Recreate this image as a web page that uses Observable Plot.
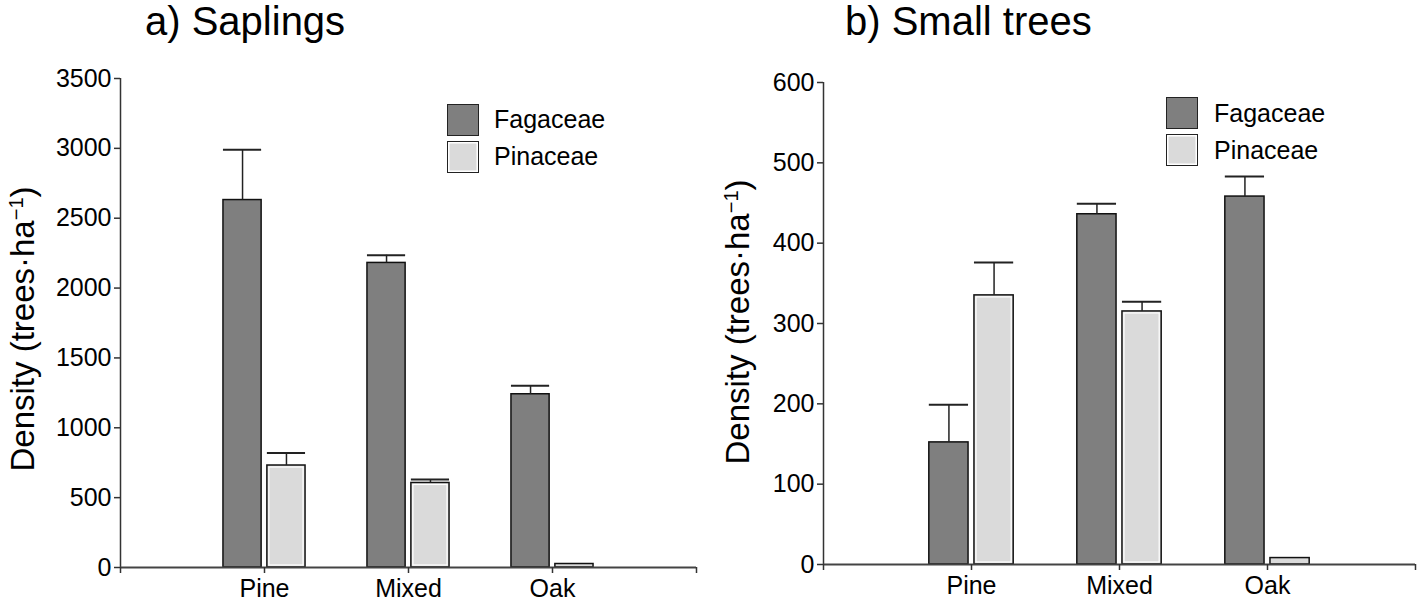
<!DOCTYPE html>
<html>
<head>
<meta charset="utf-8">
<script src="https://cdn.jsdelivr.net/npm/d3@7"></script>
<script src="https://cdn.jsdelivr.net/npm/@observablehq/plot@0.6"></script>
<style>
  html, body { margin: 0; padding: 0; background: #fff; }
  #wrap { position: relative; width: 1418px; height: 605px; overflow: hidden; font-family: "Liberation Sans", Arial, sans-serif; color: #000; }
  .panel { position: absolute; top: 0; }
  .title { position: absolute; font-size: 40px; line-height: 40px; white-space: nowrap; }
  .ylab { position: absolute; font-size: 33px; line-height: 33px; white-space: nowrap; transform: translate(-50%, -50%) rotate(-90deg); }
  .ylab sup { font-size: 20px; line-height: 0; vertical-align: 0.55em; }
  .sw { position: absolute; width: 30px; height: 30px; border: 1.5px solid #222; }
  .lt { position: absolute; font-size: 25px; line-height: 25px; white-space: nowrap; }
</style>
</head>
<body>
<div id="wrap"></div>
<script>
// ---- data ----
const sites = ["Pine", "Mixed", "Oak"];
const siteIndex = [1, 2, 3];
const families = ["Fagaceae", "Pinaceae"];
const familyColors = ["#7f7f7f", "#dadada"];

const saplingsFagaceae = [2630, 2180, 1240];
const saplingsFagaceaeSE = [360, 55, 60];
const saplingsPinaceae = [730, 605, 25];
const saplingsPinaceaeSE = [90, 25, 0];
const saplingTicks = [0, 500, 1000, 1500, 2000, 2500, 3000, 3500];

const smallFagaceae = [152, 436, 458];
const smallFagaceaeSE = [47, 13, 25];
const smallPinaceae = [335, 315, 8];
const smallPinaceaeSE = [41, 12, 0];
const smallTicks = [0, 100, 200, 300, 400, 500, 600];

const xTicks = [0, 1, 2, 3, 4];

// ---- build rows ----
function rows(fag, fagSE, pin, pinSE) {
  const out = [];
  sites.forEach((s, i) => {
    const c = siteIndex[i];
    out.push({site: s, family: families[0], x1: c - 0.285, x2: c - 0.02, value: fag[i], se: fagSE[i]});
    out.push({site: s, family: families[1], x1: c + 0.02, x2: c + 0.285, value: pin[i], se: pinSE[i]});
  });
  return out;
}

function panel(data, yMax, yTicks, opts) {
  const withErr = data.filter(d => d.se > 0);
  return Plot.plot({
    width: opts.width, height: 605,
    marginLeft: opts.marginLeft, marginRight: opts.marginRight,
    marginTop: opts.marginTop, marginBottom: opts.marginBottom,
    style: {fontFamily: "'Liberation Sans', Arial, sans-serif", fontSize: "25px", color: "#000", background: "transparent", overflow: "visible"},
    x: {type: "linear", domain: [0, 4]},
    y: {domain: [0, yMax]},
    color: {domain: families, range: familyColors},
    marks: [
      Plot.rect(data, {x1: "x1", x2: "x2", y1: 0, y2: "value", fill: "family", stroke: "#111", strokeWidth: 1.5}),
      Plot.rect(data.filter(d => d.family === families[1] && d.value > 15), {x1: "x1", x2: "x2", y1: 0, y2: "value", fill: "none", stroke: "#fff", strokeWidth: 1.2, inset: 2}),
      Plot.ruleX(withErr, {x: d => (d.x1 + d.x2) / 2, y1: "value", y2: d => d.value + d.se, stroke: "#222", strokeWidth: 1.5}),
      Plot.ruleY(withErr, {y: d => d.value + d.se, x1: "x1", x2: "x2", stroke: "#222", strokeWidth: 2}),
      Plot.ruleX([0], {y1: 0, y2: yMax, stroke: "#333", strokeWidth: 1.5}),
      Plot.ruleY([0], {x1: 0, x2: 4, stroke: "#444", strokeWidth: 2}),
      Plot.axisY({ticks: yTicks, tickSize: 6, tickPadding: 3, label: null, stroke: "#333", strokeWidth: 1.5, fill: "#000", tickFormat: d => String(d)}),
      Plot.axisX({ticks: xTicks, tickSize: 6, tickPadding: 6, label: null, stroke: "#333", strokeWidth: 1.5, fill: "#000", tickFormat: d => (d >= 1 && d <= 3) ? sites[d - 1] : ""})
    ]
  });
}

const wrap = document.getElementById("wrap");

const left = panel(rows(saplingsFagaceae, saplingsFagaceaeSE, saplingsPinaceae, saplingsPinaceaeSE), 3500, saplingTicks,
  {width: 700, marginLeft: 120, marginRight: 4, marginTop: 78, marginBottom: 38});
left.classList.add("panel"); left.style.left = "0px";
wrap.appendChild(left);

const right = panel(rows(smallFagaceae, smallFagaceaeSE, smallPinaceae, smallPinaceaeSE), 600, smallTicks,
  {width: 718, marginLeft: 123, marginRight: 3, marginTop: 82, marginBottom: 41});
right.classList.add("panel"); right.style.left = "700px";
wrap.appendChild(right);

// ---- titles, y labels, legends ----
function addDiv(cls, html, css) {
  const d = document.createElement("div");
  d.className = cls; d.innerHTML = html;
  Object.assign(d.style, css);
  wrap.appendChild(d);
  return d;
}
addDiv("title", "a) Saplings", {left: "145px", top: "1px"});
addDiv("title", "b) Small trees", {left: "845px", top: "1px"});
const ylab = "Density (trees·ha<sup>−1</sup>)";
addDiv("ylab", ylab, {left: "22px", top: "329px"});
addDiv("ylab", ylab, {left: "737px", top: "322px"});

function legend(x, y, tx, ty) {
  families.forEach((f, i) => {
    const sw = addDiv("sw", "", {left: x + "px", top: (y + i * 37) + "px", background: familyColors[i]});
    if (i === 1) sw.style.boxShadow = "inset 0 0 0 1.5px #fff";
    addDiv("lt", f, {left: tx + "px", top: (ty + i * 37) + "px"});
  });
}
legend(447, 104, 494, 107);
legend(1166, 97, 1214, 101);
</script>
</body>
</html>
